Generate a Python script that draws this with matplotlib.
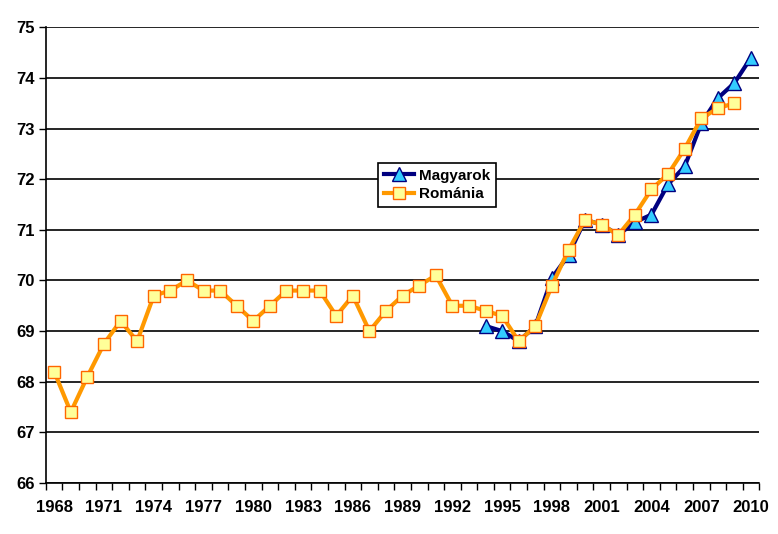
import matplotlib.pyplot as plt
from matplotlib.ticker import FixedLocator
from matplotlib import font_manager

plt.rcParams['font.family'] = ['Liberation Sans', 'DejaVu Sans']
plt.rcParams['font.weight'] = 'bold'

years = list(range(1968, 2011))

# Románia, 1968-2009
romania = [68.2, 67.4, 68.1, 68.75, 69.2, 68.8, 69.7, 69.8, 70.0, 69.8,
           69.8, 69.5, 69.2, 69.5, 69.8, 69.8, 69.8, 69.3, 69.7, 69.0,
           69.4, 69.7, 69.9, 70.1, 69.5, 69.5, 69.4, 69.3, 68.8, 69.1,
           69.9, 70.6, 71.2, 71.1, 70.9, 71.3, 71.8, 72.1, 72.6, 73.2,
           73.4, 73.5]

# Magyarok, 1994-2010
magyar_years = list(range(1994, 2011))
magyarok = [69.1, 69.0, 68.8, 69.1, 70.05, 70.5, 71.2, 71.1, 70.9, 71.15,
            71.3, 71.9, 72.25, 73.1, 73.6, 73.9, 74.4]

x_rom = [y - 1968 for y in years[:len(romania)]]
x_mag = [y - 1968 for y in magyar_years]

names = {f.name for f in font_manager.fontManager.ttflist}
xfont = 'Liberation Sans Narrow' if 'Liberation Sans Narrow' in names else 'Liberation Sans'

fig = plt.figure(figsize=(7.78, 5.34), dpi=100)
ax = fig.add_axes([0.059, 0.0955, 0.917, 0.8535])

ax.plot(x_mag, magyarok, color="#000080", lw=3, marker="^", markersize=10,
        markerfacecolor="#33CCFF", markeredgecolor="#000080", markeredgewidth=1,
        label="Magyarok", zorder=3)
ax.plot(x_rom, romania, color="#FF9900", lw=3, marker="s", markersize=8.5,
        markerfacecolor="#FFFF99", markeredgecolor="#FF6600", markeredgewidth=1,
        label="Románia", zorder=4)

ax.set_xlim(-0.5, len(years) - 0.5)
ax.set_ylim(66, 75)
ax.set_yticks(range(66, 76))
ax.grid(axis="y", color="black", lw=1.2)
ax.set_axisbelow(True)

ax.set_xticks([i for i in range(0, len(years), 3)])
ax.set_xticklabels([str(years[i]) for i in range(0, len(years), 3)])
ax.xaxis.set_minor_locator(FixedLocator([i - 0.5 for i in range(len(years) + 1)]))
ax.tick_params(axis="x", which="major", length=0, pad=12, labelsize=12,
               labelfontfamily=xfont)
ax.tick_params(axis="x", which="minor", length=5, direction="out", width=1)
ax.tick_params(axis="y", length=5, direction="out", width=1, pad=3, labelsize=12)

for s in ["top", "right"]:
    ax.spines[s].set_visible(False)
ax.spines["left"].set_linewidth(1.2)
ax.spines["bottom"].set_linewidth(1.2)

leg = ax.legend(loc="upper left", bbox_to_anchor=(0.465, 0.703), frameon=True,
                fancybox=False, edgecolor="black", framealpha=1,
                prop={"weight": "bold", "size": 11},
                handlelength=2.0, handletextpad=0.3, borderpad=0.4, labelspacing=0.3,
                borderaxespad=0)
leg.get_frame().set_linewidth(1.2)
leg.set_zorder(10)

fig.savefig("out.png", dpi=100)
